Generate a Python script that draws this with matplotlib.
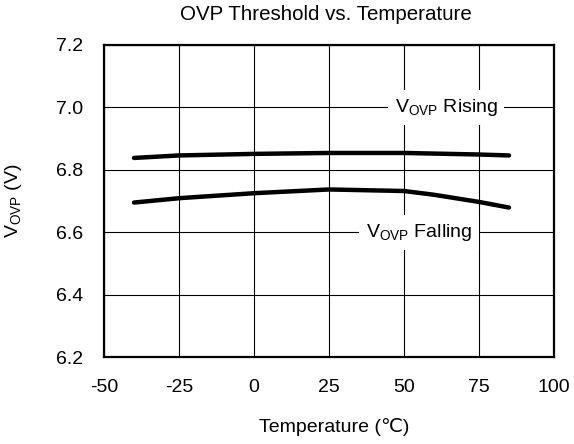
import matplotlib
matplotlib.use("Agg")
import matplotlib.pyplot as plt

plt.rcParams['font.family'] = ['Liberation Sans', 'DejaVu Sans']
plt.rcParams['mathtext.fontset'] = 'custom'
plt.rcParams['mathtext.rm'] = 'Liberation Sans'
plt.rcParams['mathtext.it'] = 'Liberation Sans:italic'

temp = [-40, -25, 0, 25, 50, 60, 75, 85]
rising = [6.838, 6.846, 6.851, 6.854, 6.854, 6.852, 6.849, 6.846]
falling = [6.695, 6.709, 6.725, 6.737, 6.732, 6.720, 6.697, 6.679]
xticks = [-50, -25, 0, 25, 50, 75, 100]
yticks = [6.2, 6.4, 6.6, 6.8, 7.0, 7.2]

FS = 14

fig = plt.figure(figsize=(5.74, 4.44), dpi=100)
ax = fig.add_axes([104/574, 1-357/444, 450/574, 312/444])

ax.plot(temp, rising, color='black', lw=3.2, solid_capstyle='round', zorder=3)
ax.plot(temp, falling, color='black', lw=3.2, solid_capstyle='round', zorder=3)

ax.set_xlim(-50, 100)
ax.set_ylim(6.2, 7.2)
ax.set_xticks(xticks)
ax.set_yticks(yticks)
ax.set_xticklabels([str(v) for v in xticks])
ax.set_yticklabels([f"{v:.1f}" for v in yticks])
ax.grid(True, color='black', lw=0.8)
ax.set_axisbelow(True)
ax.tick_params(axis='x', length=0, labelsize=FS, pad=16)
ax.tick_params(axis='y', length=0, labelsize=FS, pad=15)
for s in ax.spines.values():
    s.set_linewidth(1.6)

ax.text(64, 7.0, r'V$_{\mathrm{OVP}}$ Rising', ha='center', va='center', fontsize=FS,
        bbox=dict(facecolor='white', edgecolor='none', pad=5), zorder=4)
ax.text(55, 6.6, r'V$_{\mathrm{OVP}}$ Falling', ha='center', va='center', fontsize=FS,
        bbox=dict(facecolor='white', edgecolor='none', pad=5), zorder=4)

fig.text(334/574, 1-427/444, 'Temperature (\u2103)', fontsize=FS, ha='center', va='center')
fig.text(13/574, 1-201/444, r'V$_{\mathrm{OVP}}$ (V)', fontsize=FS, ha='center', va='center',
         rotation=90)
fig.text(326/574, 1-14/444, 'OVP Threshold vs. Temperature', fontsize=14.8, ha='center', va='center')

fig.savefig('out.png', dpi=100)
